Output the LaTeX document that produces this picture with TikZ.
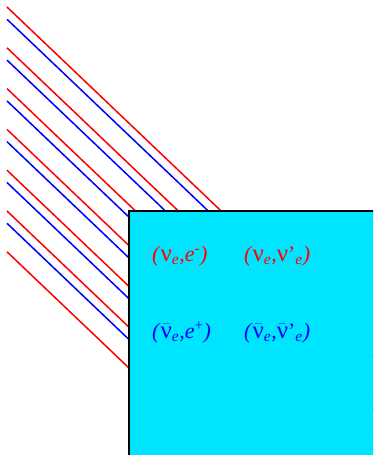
\documentclass[tikz,border=0pt]{standalone}
\usepackage{amsmath}
\usepackage{fontspec}
\setmainfont{Liberation Serif}
\usepackage{tikz}
\usetikzlibrary{calc}

\definecolor{boxcyan}{RGB}{0,229,255}
\newcommand{\nul}{{\fontsize{25}{26}\selectfont ν}}
\newcommand{\nub}{\ensuremath{\bar{\mbox{\nul}}}}
\tikzset{
  ray/.style={line width=1.5pt},
  pair/.style={anchor=base west, inner sep=0pt, font=\fontsize{22}{24}\selectfont}
}

\begin{document}
\begin{tikzpicture}[x=1pt, y=-1pt]
  \useasboundingbox (0,0) rectangle (373,455);
  \clip (0,0) rectangle (373,455);

  % incoming beams
  \foreach \i in {0,...,6}
    \draw[ray, red] (7, 7+40.8*\i) -- ++(400, 381);
  \foreach \i in {0,...,5}
    \draw[ray, blue] (7, 19.3+40.8*\i) -- ++(400, 381);

  % target block
  \draw[line width=2pt, fill=boxcyan] (129,210.5) rectangle (390,470);

  % scattering channels
  \node[pair, text=red] (nue) at (152,261)
    {\textit{(}\nul\textsubscript{\textit{e}}\textit{,e}\textsuperscript{-}\textit{)}};
  \node[pair, text=red] (nunu) at (244,261)
    {\textit{(}\nul\textsubscript{\textit{e}}\textit{,}\nul’\textsubscript{\textit{e}}\textit{)}};
  \node[pair, text=blue] (nubare) at (152,338)
    {\textit{(}\nub\textsubscript{\textit{e}}\textit{,e}\textsuperscript{+}\textit{)}};
  \node[pair, text=blue] (nubarnu) at (244,338)
    {\textit{(}\nub\textsubscript{\textit{e}}\textit{,}\nub’\textsubscript{\textit{e}}\textit{)}};
\end{tikzpicture}
\end{document}
